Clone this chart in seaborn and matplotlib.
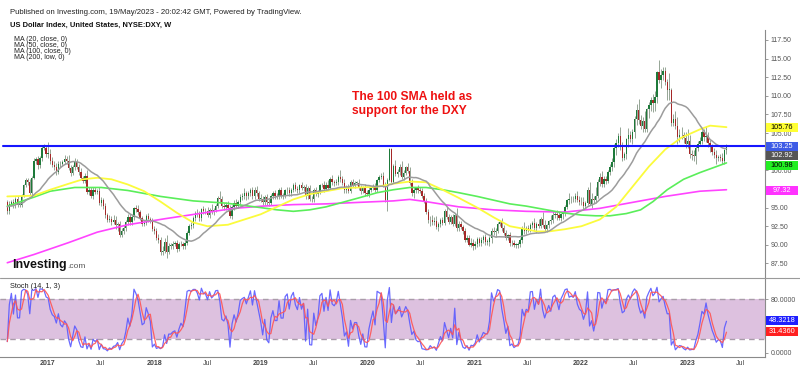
import numpy as np
import pandas as pd
import matplotlib
matplotlib.use("Agg")
import matplotlib.pyplot as plt
import seaborn as sns
from matplotlib.lines import Line2D
from matplotlib.patches import Rectangle

sns.set_theme(style="white")
plt.rcParams["font.family"] = ["Liberation Sans", "DejaVu Sans"]

# ---------------- DATA (weekly DXY, weeks starting 2016-08-15) ----------------
first_week = "2016-08-15"
first_open = 95.7
# closes before the first visible week (only used to warm up the MA(20))
warmup_close = [94.2, 94.6, 95.1, 93.0, 93.9, 94.6, 95.3, 95.5, 93.9, 94.6,
                 94.2, 95.5, 95.6, 96.3, 96.6, 97.4, 95.5, 96.2, 95.7]

close_2016 = [94.5, 95.5,
              95.8, 95.3, 96.1, 95.4, 95.4,
              96.6, 98.0, 98.7, 98.4,
              97.0, 99.0, 101.2, 101.5,
              100.7, 101.6, 103.0, 103.0, 102.2]
close_2017 = [102.2, 101.2, 100.7, 100.5,
              99.8, 100.8, 100.9, 101.1,
              101.5, 101.3, 100.3, 99.7, 100.4,
              101.1, 100.5, 99.8, 99.0,
              98.6, 99.2, 97.1, 97.4,
              96.6, 97.3, 97.1, 97.2, 95.6,
              96.0, 95.2, 94.0, 93.3,
              93.5, 93.1, 93.4, 92.7,
              92.8, 91.3, 91.9, 92.2, 93.1,
              93.8, 93.1, 93.7, 94.9,
              94.8, 94.4, 93.6, 92.8,
              92.9, 93.9, 93.5, 93.3, 92.1]
close_2018 = [91.9, 90.9, 90.6, 89.1,
              89.2, 90.4, 89.1, 89.9,
              89.9, 90.1, 90.2, 89.5, 90.1,
              90.1, 89.8, 90.3, 91.6,
              92.5, 92.6, 93.6, 94.3,
              94.2, 93.6, 94.8, 94.5, 94.5,
              94.0, 94.7, 94.4, 94.7,
              95.2, 96.3, 96.1, 95.2, 95.1,
              95.4, 94.9, 93.9, 95.1,
              95.6, 95.2, 95.7, 96.4,
              96.5, 96.9, 96.5, 96.9, 97.3,
              96.5, 97.4, 96.9, 96.2]
close_2019 = [96.2, 95.7, 96.4, 95.8,
              95.6, 96.6, 96.9, 96.5,
              96.5, 97.3, 96.6, 96.6, 97.3,
              97.4, 96.9, 97.4, 98.0,
              97.5, 97.3, 98.0, 97.6, 97.8,
              96.5, 97.6, 96.2, 96.1,
              97.3, 96.8, 97.1, 98.0,
              98.1, 97.5, 98.1, 97.6, 98.9,
              98.4, 98.3, 98.5, 99.1,
              98.8, 98.3, 97.3, 97.8,
              97.2, 98.4, 98.0, 98.3, 98.3,
              97.7, 97.2, 97.7, 96.9]
close_2020 = [96.8, 97.4, 97.6, 97.9, 97.4,
              98.7, 99.1, 99.3, 98.1,
              96.0, 98.7, 102.8, 98.4,
              100.6, 99.5, 99.8, 100.4,
              99.1, 99.7, 100.4, 99.9, 98.3,
              96.9, 97.3, 97.6, 97.4,
              97.2, 96.6, 95.9, 94.4, 93.3,
              93.4, 93.1, 93.2, 92.4,
              92.8, 93.3, 92.9, 94.6,
              93.8, 93.1, 93.7, 92.8, 94.0,
              92.2, 92.8, 92.4, 91.8,
              90.7, 90.9, 90.0, 90.3]
close_2021 = [89.9, 90.1, 90.8, 90.2, 90.6,
              91.0, 90.4, 90.4, 90.9,
              91.9, 91.7, 91.9, 92.8,
              93.0, 92.2, 91.6, 90.9, 91.3,
              90.2, 90.3, 90.0, 90.0,
              90.1, 90.6, 92.2, 91.8,
              92.2, 92.1, 92.7, 92.9, 92.2,
              92.8, 92.5, 93.5, 92.7,
              92.1, 92.6, 93.2, 93.3,
              94.0, 94.1, 94.0, 93.6, 94.1,
              94.3, 95.1, 96.0, 96.1,
              96.2, 96.1, 96.6, 96.0, 95.7]
close_2022 = [95.7, 95.2, 95.6, 97.3,
              95.5, 96.1, 96.0, 96.6,
              98.5, 99.1, 98.2, 98.8,
              98.6, 99.8, 100.5, 101.1, 103.0,
              103.7, 104.6, 103.2, 101.7,
              102.2, 104.2, 104.7, 104.2,
              105.1, 106.9, 108.1, 106.7, 105.9,
              106.6, 105.6, 108.2, 108.8,
              109.5, 109.0, 109.8, 113.2, 112.1,
              112.8, 113.3, 111.9, 110.8,
              110.8, 106.3, 106.9, 106.0,
              104.5, 104.8, 104.7, 104.3, 103.5]
close_2023 = [103.9, 102.2, 102.0, 101.9,
              103.0, 103.6, 103.9, 105.2,
              104.5, 104.6, 103.7, 103.1, 102.5,
              102.1, 101.6, 101.8, 101.7,
              101.2, 102.7, 103.2]

# upper / lower wick lengths, in tenths of an index point
up_wick = [3, 4, 2, 3, 3, 4, 3, 2, 2, 3, 3, 5, 3, 5, 3, 4, 3, 4, 6, 4,
           16, 6, 6, 5, 5, 4, 4, 3, 6, 4, 8, 4, 3, 5, 4, 4, 5, 3, 5, 8, 4,
           4, 4, 4, 3, 5, 4, 3, 4, 3, 5, 4, 6, 5, 3, 4, 3, 4, 2, 4, 4, 3, 2,
           4, 5, 3, 3, 4, 3, 4, 3, 3,
           4, 4, 5, 5, 6, 5, 9, 3, 4, 4, 3, 5, 3, 4, 3, 4, 3, 3, 4, 3, 3,
           5, 4, 2, 4, 4, 6, 3, 8, 3, 3, 3, 9, 5, 4, 3, 5, 4, 3, 4, 5, 3, 4,
           5, 7, 3, 3, 3, 4, 3, 5, 3,
           6, 3, 3, 4, 4, 2, 3, 4, 4, 3, 4, 3, 2, 3, 4, 2, 3, 4, 4, 2, 4, 3,
           4, 3, 5, 3, 3, 4, 3, 2, 2, 5, 3, 6, 2, 5, 3, 3, 3, 9, 4, 5, 2,
           4, 3, 4, 3, 3, 5, 4, 2, 5,
           4, 3, 2, 3, 4, 2, 3, 4, 5, 3, 3, 2, 2, 3, 8, 4, 4, 8, 4, 2, 6, 5,
           6, 4, 2, 4, 3, 4, 4, 4, 4, 5, 6, 5, 7, 3, 3, 4, 2, 5, 4, 3, 4, 2,
           9, 4, 4, 3, 4, 4, 4, 6,
           5, 4, 3, 3, 4, 3, 5, 4, 3, 3, 5, 3, 2, 3, 6, 4, 4, 2, 4, 4, 4, 3,
           3, 3, 3, 8, 3, 5, 2, 3, 7, 2, 7, 2, 9, 6, 2, 2, 7, 5, 4, 6, 5, 2,
           3, 2, 2, 9, 4, 4, 4, 6, 5,
           7, 7, 3, 4, 12, 8, 4, 11, 4, 5, 8, 4, 4, 3, 3, 5, 5, 5, 4, 12, 6,
           3, 2, 10, 6, 5, 4, 8, 15, 7, 6, 14, 2, 4, 3, 8, 8, 2, 16, 8, 6, 6,
           4, 23, 2, 7, 10, 12, 7, 10, 5, 9,
           17, 9, 5, 7, 3, 4, 6, 2, 4, 13, 6, 4, 5, 5, 6, 2, 4, 6, 2, 4]
dn_wick = [3, 3, 3, 4, 3, 3, 3, 3, 2, 3, 4, 3, 4, 2, 3, 5, 4, 3, 3, 4,
           5, 4, 3, 4, 4, 3, 3, 3, 3, 4, 3, 4, 3, 3, 3, 4, 3, 3, 3, 3, 4,
           3, 5, 3, 3, 3, 4, 4, 4, 2, 3, 4, 3, 6, 8, 3, 3, 4, 3, 4, 5, 4, 3,
           4, 4, 3, 3, 3, 3, 4, 4, 3,
           5, 3, 4, 4, 5, 3, 9, 3, 4, 4, 3, 4, 3, 3, 4, 4, 3, 3, 4, 3, 4,
           4, 4, 4, 4, 3, 3, 4, 3, 4, 3, 3, 5, 3, 4, 4, 3, 3, 4, 4, 3, 3, 3,
           4, 4, 5, 3, 4, 3, 4, 4, 3,
           4, 4, 3, 4, 4, 3, 4, 3, 3, 4, 3, 5, 3, 5, 3, 3, 3, 3, 3, 3, 3, 4,
           3, 4, 3, 3, 4, 3, 4, 3, 3, 4, 3, 3, 3, 3, 4, 3, 4, 4, 3, 3, 3,
           3, 3, 3, 4, 3, 3, 4, 3, 3,
           3, 4, 3, 3, 3, 3, 3, 3, 4, 3, 14, 1, 1, 1, 3, 4, 4, 3, 4, 3, 3, 3,
           3, 6, 3, 4, 3, 3, 3, 3, 4, 8, 4, 5, 3, 6, 4, 3, 3, 3, 3, 3, 3, 3,
           3, 3, 3, 3, 3, 3, 2, 3,
           6, 4, 4, 3, 4, 4, 4, 4, 6, 6, 4, 6, 3, 3, 3, 3, 3, 3, 4, 4, 3, 4,
           4, 4, 3, 3, 3, 4, 4, 4, 3, 6, 3, 3, 3, 3, 4, 3, 4, 4, 4, 6, 3, 4,
           6, 4, 3, 5, 5, 4, 4, 3, 3,
           4, 4, 3, 3, 2, 6, 4, 4, 3, 6, 4, 5, 4, 3, 4, 6, 6, 9, 5, 5, 4,
           3, 7, 10, 4, 7, 8, 8, 5, 4, 7, 4, 4, 12, 9, 12, 10, 8, 4, 10, 7, 4,
           14, 14, 4, 3, 4, 9, 7, 5, 6, 5,
           5, 5, 6, 6, 11, 4, 3, 3, 5, 7, 5, 6, 4, 4, 8, 3, 5, 4, 3, 5]

# moving averages
ma50_dates = ["2016-08-15", "2016-11-14", "2017-01-09", "2017-03-13", "2017-05-01",
              "2017-06-19", "2017-08-07", "2017-10-02", "2017-11-27", "2018-01-22",
              "2018-03-19", "2018-05-14", "2018-07-02", "2018-09-10", "2018-11-05",
              "2018-12-31", "2019-02-25", "2019-04-22", "2019-06-17", "2019-08-12",
              "2019-10-07", "2019-12-02", "2020-02-03", "2020-03-30", "2020-05-25",
              "2020-07-20", "2020-09-14", "2020-11-09", "2021-01-11", "2021-03-08",
              "2021-05-03", "2021-06-28", "2021-08-02", "2021-09-13", "2021-11-08",
              "2022-01-03", "2022-03-07", "2022-05-02", "2022-06-27", "2022-08-22",
              "2022-10-17", "2022-12-12", "2023-02-13", "2023-03-20", "2023-05-15"]
ma50_vals = [96.5, 96.6, 97.4, 98.2, 98.8, 99.0, 98.8, 98.1, 97.2, 95.8,
             94.3, 93.0, 92.5, 92.7, 93.4, 94.1, 95.1, 96.1, 96.8, 97.2,
             97.6, 97.7, 97.8, 98.2, 98.5, 98.4, 97.4, 96.3, 95.0, 93.7,
             92.5, 92.1, 91.8, 91.8, 92.1, 92.5, 93.4, 95.1, 97.8, 100.5,
             102.8, 104.4, 105.5, 106.0, 105.8]
ma100_dates = ["2016-08-15", "2016-11-14", "2017-01-09", "2017-04-03", "2017-07-03",
               "2017-10-02", "2018-01-22", "2018-05-14", "2018-09-03", "2018-12-31",
               "2019-02-25", "2019-04-22", "2019-06-17", "2019-08-12", "2019-10-07",
               "2019-12-02", "2020-02-03", "2020-03-30", "2020-05-25", "2020-07-20",
               "2020-09-14", "2020-11-09", "2021-01-11", "2021-03-08", "2021-05-03",
               "2021-06-28", "2021-09-06", "2021-11-01", "2022-01-03", "2022-02-21",
               "2022-04-11", "2022-06-06", "2022-07-25", "2022-09-05", "2022-10-24",
               "2022-12-19", "2023-02-13", "2023-04-10", "2023-05-15"]
ma100_vals = [95.2, 96.4, 97.2, 97.7, 97.7, 97.3, 96.5, 95.9, 95.6, 95.0,
              94.7, 94.5, 94.7, 95.1, 95.7, 96.3, 97.0, 97.4, 97.7, 97.7,
              97.4, 97.0, 96.5, 96.0, 95.5, 95.2, 94.7, 94.3, 94.0, 93.9,
              93.9, 94.2, 94.7, 95.8, 97.4, 98.8, 99.7, 100.5, 101.0]
ma200_dates = ["2016-08-15", "2016-11-14", "2017-03-13", "2017-06-19", "2017-10-02",
               "2018-02-05", "2018-06-04", "2018-10-01", "2019-01-07", "2019-04-22",
               "2019-08-12", "2019-12-02", "2020-03-30", "2020-05-25", "2020-07-20",
               "2020-11-09", "2021-03-08", "2021-06-28", "2021-11-08", "2022-03-07",
               "2022-06-27", "2022-10-17", "2023-02-13", "2023-05-15"]
ma200_vals = [87.6, 88.7, 90.3, 91.7, 92.7, 93.5, 94.2, 94.9, 95.2, 95.4,
              95.5, 95.7, 95.9, 96.1, 95.8, 95.1, 94.7, 94.5, 94.4, 94.9,
              95.7, 96.5, 97.2, 97.4]

hline_level = 103.25
price_ticks = [87.5, 90.0, 92.5, 95.0, 97.5, 100.0, 102.5, 105.0, 107.5, 110.0,
               112.5, 115.0, 117.5]
covered_ticks = [97.5, 102.5]     # tick labels hidden behind the value tags
stoch_ticks = [0, 80]
price_tags = [(105.76, "105.76", "#ffff33", "black"),
              (103.25, "103.25", "#3d5be6", "white"),
              (102.92, "102.92", "#555555", "white"),
              (100.98, "100.98", "#22ee22", "black"),
              (97.32, "97.32", "#ff33ff", "white")]
stoch_tags = [(48.3218, "48.3218", "#1f1fff", "white"),
              (31.4360, "31.4360", "#ff2020", "white")]
xtick_dates = ["2017-01-01", "2017-07-01", "2018-01-01", "2018-07-01", "2019-01-01",
               "2019-07-01", "2020-01-01", "2020-07-01", "2021-01-01", "2021-07-01",
               "2022-01-01", "2022-07-01", "2023-01-01", "2023-07-01"]
xtick_labels = ["2017", "Jul", "2018", "Jul", "2019", "Jul", "2020", "Jul",
                "2021", "Jul", "2022", "Jul", "2023", "Jul"]

# ---------------- derived series ----------------
close = (close_2016 + close_2017 + close_2018 + close_2019 + close_2020
         + close_2021 + close_2022 + close_2023)
n = len(close)
dates = pd.date_range(first_week, periods=n, freq="7D")
c = np.array(close)
o = np.array([first_open] + close[:-1])
uw = np.array(up_wick[:n]) / 10.0
dw = np.array(dn_wick[:n]) / 10.0
high = np.maximum(o, c) + uw
low = np.minimum(o, c) - dw

ma20 = pd.Series(warmup_close + close).rolling(20).mean().iloc[len(warmup_close):].values

hh = pd.Series(high).rolling(14, min_periods=1).max()
ll = pd.Series(low).rolling(14, min_periods=1).min()
stoch_k = (100 * (pd.Series(c) - ll) / (hh - ll)).values
stoch_d = pd.Series(stoch_k).rolling(3, min_periods=1).mean().values

# ---------------- figure ----------------
W, H = 800, 372
fig = plt.figure(figsize=(W / 100, H / 100), dpi=100)
fig.patch.set_facecolor("white")


def rect(l, t, r, b):
    return [l / W, 1 - b / H, (r - l) / W, (b - t) / H]


ax = fig.add_axes(rect(0, 30, 765, 278))
ax2 = fig.add_axes(rect(0, 278, 765, 357))
for a in (ax, ax2):
    a.set_facecolor("white")

# candles
up = c >= o
body_bottom = np.minimum(o, c)
body_h = np.maximum(np.abs(c - o), 0.07)
ax.vlines(dates, low, high, color="#95a595", lw=0.7, zorder=2)
ax.bar(dates[up], body_h[up], bottom=body_bottom[up], width=4.6,
       color="#1d7a3a", linewidth=0, zorder=3)
ax.bar(dates[~up], body_h[~up], bottom=body_bottom[~up], width=4.6,
       color="#a52828", linewidth=0, zorder=3)

# moving averages
sns.lineplot(x=pd.to_datetime(ma200_dates), y=ma200_vals, ax=ax, color="#ff44ff", lw=1.2, zorder=4)
sns.lineplot(x=pd.to_datetime(ma100_dates), y=ma100_vals, ax=ax, color="#5aee5a", lw=1.2, zorder=4)
sns.lineplot(x=pd.to_datetime(ma50_dates), y=ma50_vals, ax=ax, color="#fbfb3c", lw=1.3, zorder=4)
sns.lineplot(x=dates, y=ma20, ax=ax, color="#9c9c9c", lw=1.1, zorder=4)

ax.axhline(hline_level, xmin=0.004, color="#1616ff", lw=1.5, zorder=5)

# stochastic
ax2.axhspan(20, 80, color="#ddc1df", lw=0, zorder=0)
for lvl in (20, 80):
    ax2.axhline(lvl, color="#a99ca9", lw=1.0, ls=(0, (4, 3)), zorder=1)
sns.lineplot(x=dates, y=stoch_k, ax=ax2, color="#5a5aff", lw=0.9, alpha=0.9, zorder=3)
sns.lineplot(x=dates, y=stoch_d, ax=ax2, color="#ff5555", lw=0.9, alpha=0.9, zorder=4)

# axes styling
xmin, xmax = pd.Timestamp("2016-07-21"), pd.Timestamp("2023-09-24")
for a in (ax, ax2):
    a.set_xlim(xmin, xmax)
    a.set_xlabel("")
    a.set_ylabel("")
    a.grid(False)
    for s in ("top", "left"):
        a.spines[s].set_visible(False)
    a.spines["right"].set_color("#8a8a8a")
    a.spines["right"].set_linewidth(0.8)
    a.yaxis.tick_right()
    a.tick_params(axis="y", length=2.5, width=0.6, color="#8a8a8a",
                  labelsize=5, labelcolor="#555555", pad=1.5)

ax.spines["bottom"].set_visible(False)
ax.set_ylim(85.55, 118.84)
ax.set_yticks(price_ticks)
ax.set_yticklabels(["" if v in covered_ticks else f"{v:.2f}" for v in price_ticks])
ax.tick_params(axis="x", bottom=False, labelbottom=False)

ax2.set_ylim(-6.44, 111.9)
ax2.set_yticks(stoch_ticks)
ax2.set_yticklabels([f"{v:.4f}" for v in stoch_ticks])
ax2.spines["bottom"].set_color("#8a8a8a")
ax2.spines["bottom"].set_linewidth(0.8)
ax2.set_xticks(pd.to_datetime(xtick_dates))
ax2.set_xticklabels(xtick_labels)
ax2.tick_params(axis="x", length=0, pad=2.2, labelsize=5, labelcolor="#444444")
for lab in ax2.get_xticklabels():
    if lab.get_text().isdigit():
        lab.set_fontweight("bold")

if ax.get_legend():
    ax.get_legend().remove()
if ax2.get_legend():
    ax2.get_legend().remove()

# separator between panes
fig.add_artist(Line2D([0, 1], [1 - 278 / H] * 2, color="#9a9a9a", lw=0.8))

# texts
fig.text(10 / W, 1 - 12.7 / H,
         "Published on Investing.com, 19/May/2023 - 20:02:42 GMT, Powered by TradingView.",
         fontsize=5.6, va="center", color="#222222")
fig.text(10 / W, 1 - 25 / H, "US Dollar Index, United States, NYSE:DXY, W",
         fontsize=5.4, va="center", weight="bold", color="#111111")
for i, t in enumerate(["MA (20, close, 0)", "MA (50, close, 0)",
                       "MA (100, close, 0)", "MA (200, low, 0)"]):
    fig.text(14 / W, 1 - (39.5 + 5.9 * i) / H, t, fontsize=5.0, va="center", color="#222222")

fig.text(352 / W, 1 - 96.7 / H, "The 100 SMA held as", fontsize=8.7, weight="bold",
         color="#ee1111", va="center")
fig.text(352 / W, 1 - 110.7 / H, "support for the DXY", fontsize=8.7, weight="bold",
         color="#ee1111", va="center")

fig.text(12.5 / W, 1 - 268 / H, "Investing", fontsize=8.9, weight="bold",
         color="#111111", va="baseline")
fig.text(67.5 / W, 1 - 268 / H, ".com", fontsize=6.0, color="#555555", va="baseline")
fig.text(10 / W, 1 - 287 / H, "Stoch (14, 1, 3)", fontsize=5.3, va="center", color="#222222")


# value tags on the right axis
def draw_tags(axis, tags):
    ys = []
    for val, txt, bg, fg in tags:
        ypix = axis.transData.transform((0, val))[1]
        ys.append(H - ypix)
    placed = []
    for y in ys:
        if placed and y < placed[-1] + 9.5:
            y = placed[-1] + 9.5
        placed.append(y)
    for (val, txt, bg, fg), y in zip(tags, placed):
        fig.add_artist(Rectangle((766 / W, 1 - (y + 4.6) / H), 32 / W, 9.2 / H,
                                 transform=fig.transFigure, facecolor=bg,
                                 edgecolor="none", zorder=10))
        fig.text(782 / W, 1 - y / H, txt, fontsize=5.3, color=fg, ha="center",
                 va="center", zorder=11)


fig.canvas.draw()
draw_tags(ax, price_tags)
draw_tags(ax2, stoch_tags)

fig.savefig("out.png", dpi=100, facecolor="white")
